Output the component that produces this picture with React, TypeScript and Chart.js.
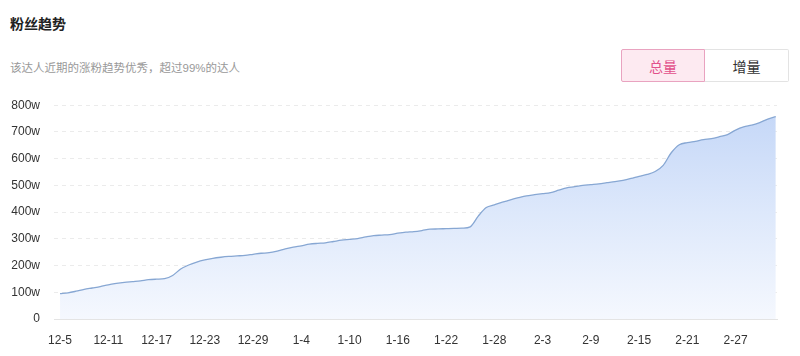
import React, { useEffect, useRef } from "react";
import { Chart, registerables } from "chart.js";

Chart.register(...registerables);

const FONT = "'Liberation Sans', 'Noto Sans CJK SC', Arial, sans-serif";

const dateLabels: string[] = [
  "12-5", "12-6", "12-7", "12-8", "12-9", "12-10", "12-11", "12-12", "12-13", "12-14",
  "12-15", "12-16", "12-17", "12-18", "12-19", "12-20", "12-21", "12-22", "12-23", "12-24",
  "12-25", "12-26", "12-27", "12-28", "12-29", "12-30", "12-31",
  "1-1", "1-2", "1-3", "1-4", "1-5", "1-6", "1-7", "1-8", "1-9", "1-10",
  "1-11", "1-12", "1-13", "1-14", "1-15", "1-16", "1-17", "1-18", "1-19", "1-20",
  "1-21", "1-22", "1-23", "1-24", "1-25", "1-26", "1-27", "1-28", "1-29", "1-30", "1-31",
  "2-1", "2-2", "2-3", "2-4", "2-5", "2-6", "2-7", "2-8", "2-9", "2-10",
  "2-11", "2-12", "2-13", "2-14", "2-15", "2-16", "2-17", "2-18", "2-19", "2-20",
  "2-21", "2-22", "2-23", "2-24", "2-25", "2-26", "2-27", "2-28", "2-29",
  "3-1", "3-2", "3-3",
];

// fans total, in 万 (w)
const fansTotal: number[] = [
  95, 98, 104, 111, 116, 121, 128, 133, 137, 140,
  143, 147, 149, 151, 163, 187, 202, 213, 221, 227,
  231, 234, 236, 238, 242, 246, 248, 254, 262, 269,
  274, 280, 283, 285, 290, 295, 298, 301, 307, 312,
  314, 316, 321, 325, 327, 331, 336, 337, 338, 339,
  340, 345, 385, 417, 427, 437, 446, 454, 461, 465,
  469, 473, 482, 491, 495, 500, 503, 506, 510, 514,
  519, 526, 534, 541, 552, 575, 622, 652, 660, 665,
  671, 675, 682, 690, 707, 719, 725, 735, 748, 757,
];

const xTickIndices: number[] = [0, 6, 12, 18, 24, 30, 36, 42, 48, 54, 60, 66, 72, 78, 84];
const yTickValues: number[] = [0, 100, 200, 300, 400, 500, 600, 700, 800];

const title = "粉丝趋势";
const subtitle = "该达人近期的涨粉趋势优秀，超过99%的达人";
const tabs = ["总量", "增量"];

function FansChart() {
  const ref = useRef<HTMLCanvasElement | null>(null);
  useEffect(() => {
    if (!ref.current) return;
    const chart = new Chart(ref.current, {
      type: "line",
      data: {
        datasets: [
          {
            data: fansTotal.map((v, i) => ({ x: i, y: v })),
            borderColor: "#87a7d3",
            borderWidth: 1.3,
            pointRadius: 0,
            fill: "origin",
            cubicInterpolationMode: "monotone",
            backgroundColor: (ctx: any) => {
              const area = ctx.chart.chartArea;
              if (!area) return "rgba(205,221,248,0.6)";
              const g = ctx.chart.ctx.createLinearGradient(0, area.top, 0, area.bottom);
              g.addColorStop(0, "#c3d6f7");
              g.addColorStop(0.5, "#dde8fb");
              g.addColorStop(1, "#f5f8fe");
              return g;
            },
          } as any,
        ],
      },
      options: {
        animation: false,
        responsive: true,
        maintainAspectRatio: false,
        layout: { padding: { left: 10, right: 23, top: 1, bottom: 7 } },
        plugins: { legend: { display: false }, tooltip: { enabled: false } },
        scales: {
          x: {
            type: "linear",
            min: -0.75,
            max: 89.15,
            afterBuildTicks: (s: any) => {
              s.ticks = xTickIndices.map((v) => ({ value: v }));
            },
            afterFit: (s: any) => {
              s.height = 30;
            },
            ticks: {
              autoSkip: false,
              maxRotation: 0,
              padding: 14,
              color: "#333",
              font: { size: 12, family: FONT },
              callback: (v: any) => dateLabels[v as number] ?? "",
            },
            grid: { display: false, drawTicks: false },
            border: { display: true, color: "#e4e4e4" },
          },
          y: {
            min: 0,
            max: 800,
            afterBuildTicks: (s: any) => {
              s.ticks = yTickValues.map((v) => ({ value: v }));
            },
            afterFit: (s: any) => {
              s.width = 44;
            },
            ticks: {
              padding: 14,
              color: "#333",
              font: { size: 12, family: FONT },
              callback: (v: any) => (v === 0 ? "0" : `${v}w`),
            },
            grid: { color: "#ebebeb", drawTicks: false },
            border: { display: false, dash: [4, 4] },
          },
        },
      } as any,
    });
    return () => chart.destroy();
  }, []);
  return (
    <div style={{ position: "absolute", left: 0, top: 84, width: 800, height: 272 }}>
      <canvas ref={ref} />
    </div>
  );
}

export default function App() {
  return (
    <div
      style={{
        position: "fixed",
        left: 0,
        top: 0,
        width: 800,
        height: 356,
        background: "#fff",
        fontFamily: FONT,
        overflow: "hidden",
      }}
    >
      <div
        style={{
          position: "absolute",
          left: 10,
          top: 14,
          fontSize: 14,
          lineHeight: "20px",
          fontWeight: 700,
          color: "#222",
        }}
      >
        {title}
      </div>
      <div
        style={{
          position: "absolute",
          left: 10,
          top: 59,
          fontSize: 11.5,
          lineHeight: "18px",
          color: "#999",
        }}
      >
        {subtitle}
      </div>
      <div
        style={{
          position: "absolute",
          left: 621,
          top: 49,
          width: 168,
          height: 33,
          display: "flex",
        }}
      >
        <div
          style={{
            width: 84,
            height: 33,
            boxSizing: "border-box",
            border: "1px solid #e9a3c0",
            background: "#fdeaf1",
            color: "#e2508b",
            borderRadius: "2px 0 0 2px",
            fontSize: 14,
            display: "flex",
            alignItems: "center",
            justifyContent: "center",
          }}
        >
          {tabs[0]}
        </div>
        <div
          style={{
            width: 84,
            height: 33,
            boxSizing: "border-box",
            border: "1px solid #e3e3e3",
            borderLeft: "none",
            background: "#fff",
            color: "#333",
            borderRadius: "0 2px 2px 0",
            fontSize: 14,
            display: "flex",
            alignItems: "center",
            justifyContent: "center",
          }}
        >
          {tabs[1]}
        </div>
      </div>
      <FansChart />
    </div>
  );
}
